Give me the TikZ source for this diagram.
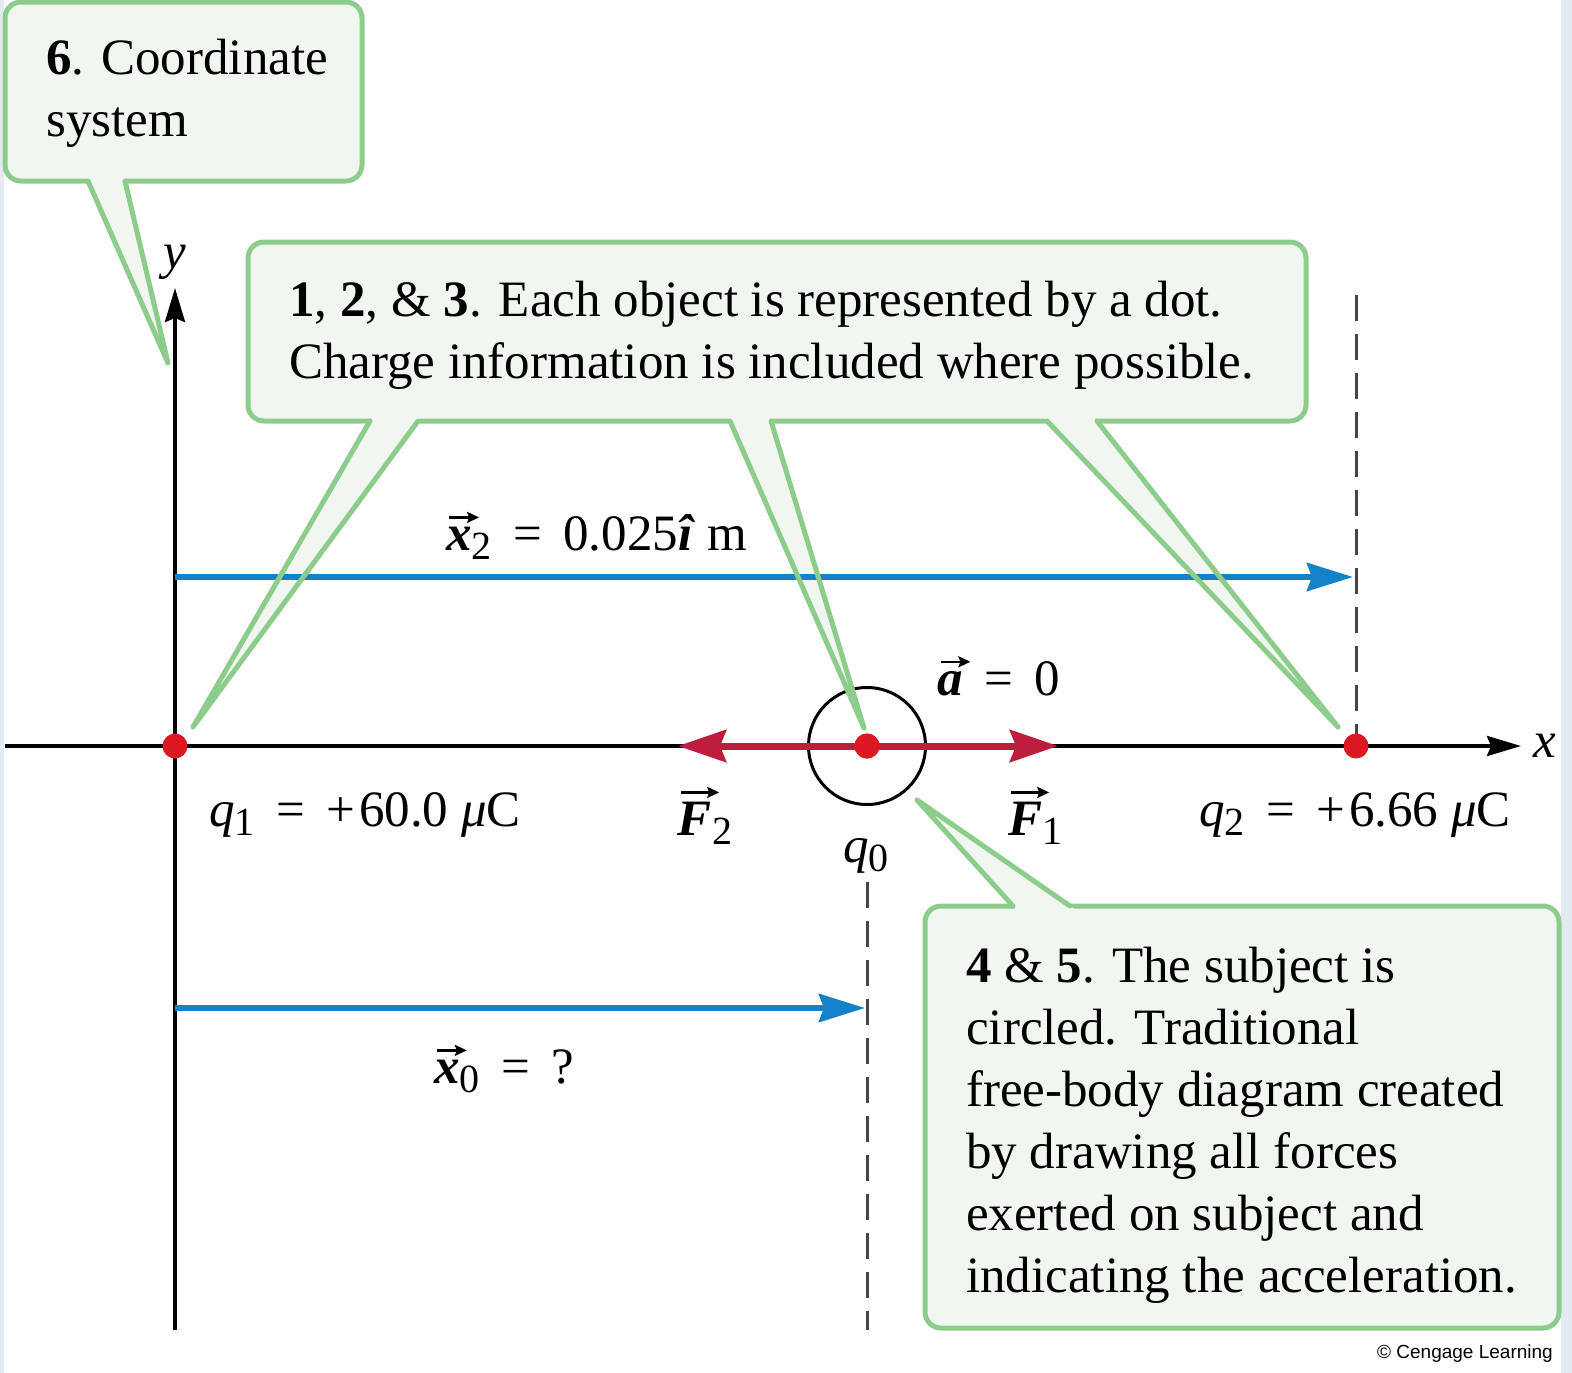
\RequirePackage{fix-cm}
\documentclass[tikz,border=0pt]{standalone}
\usepackage{fontspec}
\setmainfont{Liberation Serif}
\newfontfamily\cengagefont{Liberation Sans}
\usetikzlibrary{arrows.meta,calc}

\definecolor{callgreen}{RGB}{140,205,140}
\definecolor{callfill}{RGB}{241,246,241}
\definecolor{forcered}{RGB}{190,30,62}
\definecolor{dotred}{RGB}{220,25,35}
\definecolor{vecblue}{RGB}{20,130,200}
\definecolor{dashgray}{RGB}{70,70,70}
\definecolor{edgeband}{RGB}{228,234,242}

\tikzset{
  overarrow/.style={draw=black, line width=2.4pt, -{Stealth[length=12pt,width=11pt,inset=2pt]}},
}
\newcommand{\vb}[1]{\tikz[baseline=(L.base)]{\node[inner sep=0pt, anchor=base] (L) at (0,0) {\bfseries\itshape #1};%
  \draw[overarrow, overlay] ([xshift=3pt,yshift=9pt]L.north west) -- ([xshift=7pt,yshift=9pt]L.north east);}}
\newcommand{\lowsub}[1]{\raisebox{-9pt}{\fontsize{40}{40}\selectfont #1}}
\newcommand{\eqsp}{\hspace{0.42em}=\hspace{0.42em}}

\tikzset{
  callbox/.style={fill=callfill, draw=callgreen, line width=5pt, rounded corners=16pt},
  tailedge/.style={draw=callgreen, line width=5pt, line join=round, line cap=round},
  axisline/.style={draw=black, line width=3.5pt, -{Stealth[length=34pt,width=20pt,inset=4pt]}},
  vecarrow/.style={draw=vecblue, line width=6pt, -{Stealth[length=46pt,width=28pt,inset=5pt]}},
  force/.style={draw=forcered, line width=7pt, -{Stealth[length=48pt,width=32pt,inset=6pt]}},
  dashline/.style={draw=dashgray, line width=3pt, dash pattern=on 26pt off 13pt},
  chargedot/.style={circle, fill=dotred, minimum size=25pt, inner sep=0pt},
  subjectring/.style={circle, draw=black, line width=3pt, minimum size=117pt, inner sep=0pt},
  calltext/.style={anchor=base west, inner sep=0pt, font=\fontsize{51}{62}\selectfont},
  mathlabel/.style={anchor=base, inner sep=0pt, font=\fontsize{51}{62}\selectfont},
}

\begin{document}
\begin{tikzpicture}[x=1pt,y=-1pt]
\useasboundingbox (0,0) rectangle (1572,1373);
\fill[white] (0,0) rectangle (1572,1373);
\fill[edgeband] (0,0) rectangle (4,1373);
\fill[edgeband] (1561,0) rectangle (1572,1373);

% ---- named points
\coordinate (yb) at (175,1330);
\coordinate (yt) at (175,288);
\coordinate (xl) at (5,746);
\coordinate (xr) at (1521,746);
\coordinate (x2s) at (175,577);
\coordinate (x2e) at (1353,577);
\coordinate (x0s) at (175,1008);
\coordinate (x0e) at (865,1008);
\coordinate (F2tip) at (678,746);
\coordinate (F1tip) at (1058,746);
\coordinate (d2top) at (1356,295);
\coordinate (d2bot) at (1356,735);
\coordinate (d0top) at (867,882);
\coordinate (d0bot) at (867,1330);

% ---- callout 6
\draw[callbox] (5,2) rectangle (362,181);
\coordinate (T6) at (168,363);
\coordinate (A6) at (88,181);
\coordinate (B6) at (125,181);
\fill[callfill] ($(T6)!1.06!(A6)$) -- (T6) -- ($(T6)!1.06!(B6)$) -- cycle;
\draw[tailedge] (A6) -- (T6) -- (B6);

% ---- callout 1,2,3
\draw[callbox] (248,242) rectangle (1306,421);
\coordinate (Ta) at (193,727);
\coordinate (Aa) at (370,421);
\coordinate (Ba) at (418,421);
\coordinate (Tb) at (864,728);
\coordinate (Ab) at (730,421);
\coordinate (Bb) at (771,421);
\coordinate (Tc) at (1338,727);
\coordinate (Ac) at (1047,421);
\coordinate (Bc) at (1097,421);
\foreach \t/\a/\b in {Ta/Aa/Ba, Tb/Ab/Bb, Tc/Ac/Bc}{
  \fill[callfill] ($(\t)!1.04!(\a)$) -- (\t) -- ($(\t)!1.04!(\b)$) -- cycle;
}

% ---- callout 4&5
\draw[callbox] (925,906) rectangle (1559,1328);
\coordinate (Td) at (917,800);
\coordinate (Ad) at (1013,906);
\coordinate (Bd) at (1070,906);
\fill[callfill] ($(Td)!1.1!(Ad)$) -- (Td) -- ($(Td)!1.1!(Bd)$) -- cycle;

% ---- axes and guides
\draw[axisline] (yb) -- (yt);
\draw[axisline] (xl) -- (xr);
\draw[dashline] (d2top) -- (d2bot);
\draw[dashline] (d0top) -- (d0bot);
\draw[vecarrow] (x2s) -- (x2e);
\draw[vecarrow] (x0s) -- (x0e);

% ---- charges
\node[subjectring] (ring) at (867,746) {};
\node[chargedot] (q1) at (175,746) {};
\node[chargedot] (q0) at (867,746) {};
\node[chargedot] (q2) at (1356,746) {};
\draw[force] (q0.center) -- (F2tip);
\draw[force] (q0.center) -- (F1tip);
\node[chargedot] (q0top) at (q0.center) {};

% ---- tail edges on top
\draw[tailedge] (Aa) -- (Ta) -- (Ba);
\draw[tailedge] (Ab) -- (Tb) -- (Bb);
\draw[tailedge] (Ac) -- (Tc) -- (Bc);
\draw[tailedge] (Ad) -- (Td) -- (Bd);

% ---- callout texts
\node[calltext] (c6a) at (46,74) {\textbf{6}. Coordinate};
\node[calltext] (c6b) at (46,136) {system};
\node[calltext] (c1a) at (289,316) {\textbf{1}, \textbf{2}, \& \textbf{3}. Each object is represented by a dot.};
\node[calltext] (c1b) at (289,378) {Charge information is included where possible.};
\node[calltext] (c4a) at (966,982) {\textbf{4} \& \textbf{5}. The subject is};
\node[calltext] (c4b) at (966,1044) {circled. Traditional};
\node[calltext] (c4c) at (966,1106) {free-body diagram created};
\node[calltext] (c4d) at (966,1168) {by drawing all forces};
\node[calltext] (c4e) at (966,1230) {exerted on subject and};
\node[calltext] (c4f) at (966,1292) {indicating the acceleration.};

% ---- labels
\node[mathlabel] (lx2) at (597,550) {\vb{x}\lowsub{2}\eqsp 0.025\textbf{\textit{î}} m};
\node[mathlabel] (la) at (999,695) {\vb{a}\eqsp 0};
\node[mathlabel] (lq1) at (365,826) {\textit{q}\lowsub{1}\eqsp +\hspace{0.08em}60.0 \textit{μ}C};
\node[mathlabel] (lF2) at (705,835) {\vb{F}\lowsub{2}};
\node[mathlabel] (lq0) at (866,862) {\textit{q}\lowsub{0}};
\node[mathlabel] (lF1) at (1035,835) {\vb{F}\lowsub{1}};
\node[mathlabel] (lq2) at (1355,826) {\textit{q}\lowsub{2}\eqsp +\hspace{0.08em}6.66 \textit{μ}C};
\node[mathlabel] (lx0) at (504,1083) {\vb{x}\lowsub{0}\eqsp ?};
\node[mathlabel] (lx) at (1545,757) {\textit{x}};
\node[mathlabel] (ly) at (175,268) {\textit{y}};
\node[anchor=base east, inner sep=0pt, font=\cengagefont\fontsize{19}{19}\selectfont] (copy) at (1553,1358) {© Cengage Learning};
\end{tikzpicture}
\end{document}
